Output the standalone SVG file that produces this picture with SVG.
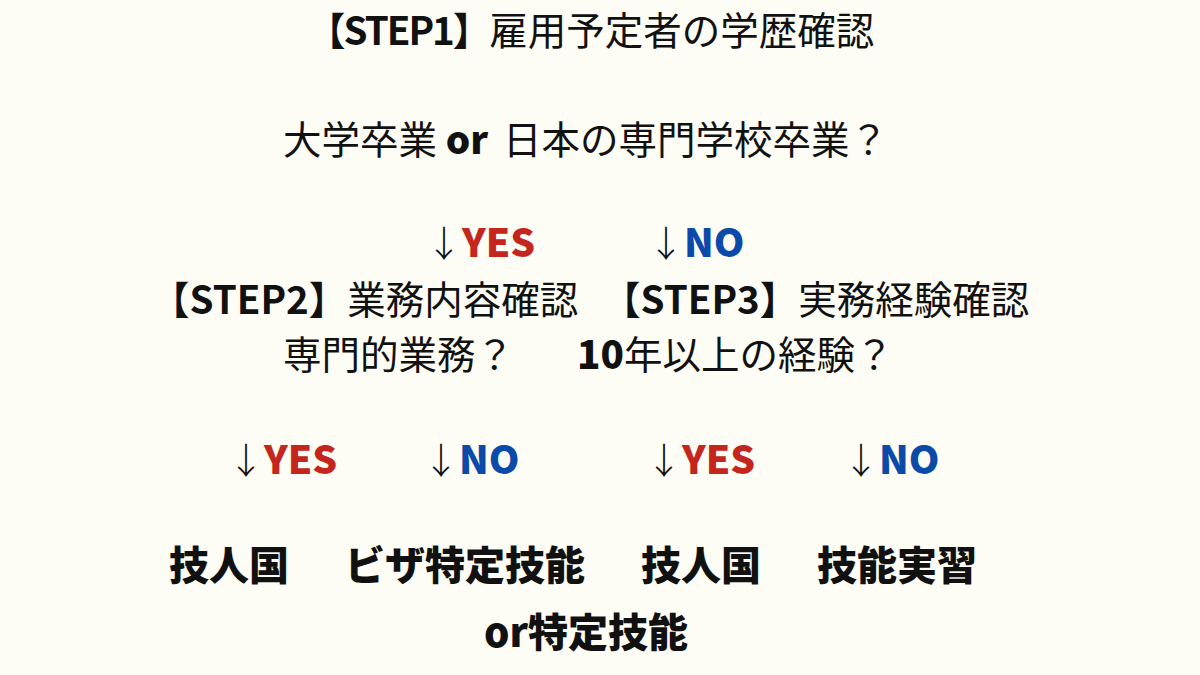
<svg xmlns="http://www.w3.org/2000/svg" width="1200" height="675" viewBox="0 0 1200 675">
<style>
.t{font-family:"Noto Sans CJK JP","Noto Sans",sans-serif;font-size:38.5px;fill:#111}
.b{font-weight:900}
.s{font-weight:700}
.r{font-size:40px}
.y{font-family:"Noto Sans CJK JP","Noto Sans",sans-serif;font-size:39px;font-weight:900;fill:#C4261D}
.n{font-family:"Noto Sans CJK JP","Noto Sans",sans-serif;font-size:39px;font-weight:900;fill:#0B4AA8}
.a{font-family:"Noto Sans CJK JP","DejaVu Sans",sans-serif;font-size:36px;font-weight:300;fill:#111}
</style>
<rect width="1200" height="675" fill="#FDFCF5"/>
<g id="step1">
<text class="t" x="307" y="45"><tspan class="s" letter-spacing="-2">【STEP1】</tspan><tspan>雇用予定者の学歴確認</tspan></text>
<text class="t" x="283" y="154">大学卒業 <tspan class="b">or</tspan><tspan x="503">日本の専門学校卒業？</tspan></text>
</g>
<g id="connectors">
<text x="426" y="257"><tspan class="a">↓</tspan><tspan class="y">YES</tspan></text>
<text x="648" y="257"><tspan class="a">↓</tspan><tspan class="n">NO</tspan></text>
<text x="228" y="474"><tspan class="a">↓</tspan><tspan class="y">YES</tspan></text>
<text x="423" y="474"><tspan class="a">↓</tspan><tspan class="n">NO</tspan></text>
<text x="646" y="474"><tspan class="a">↓</tspan><tspan class="y">YES</tspan></text>
<text x="843" y="474"><tspan class="a">↓</tspan><tspan class="n">NO</tspan></text>
</g>
<g id="step2">
<text class="t" x="151" y="314"><tspan class="s">【STEP2】</tspan><tspan>業務内容確認</tspan></text>
<text class="t" x="283" y="369">専門的業務？</text>
</g>
<g id="step3">
<text class="t" x="602" y="314"><tspan class="s">【STEP3】</tspan><tspan>実務経験確認</tspan></text>
<text class="t" x="577" y="369"><tspan class="b">10</tspan>年以上の経験？</text>
</g>
<g id="result1"><text class="t b r" x="169" y="580">技人国</text></g>
<g id="result2"><text class="t b r" x="345" y="580">ビザ特定技能</text><text class="t b r" x="484" y="647">or特定技能</text></g>
<g id="result3"><text class="t b r" x="641" y="580">技人国</text></g>
<g id="result4"><text class="t b r" x="817" y="580">技能実習</text></g>
</svg>
